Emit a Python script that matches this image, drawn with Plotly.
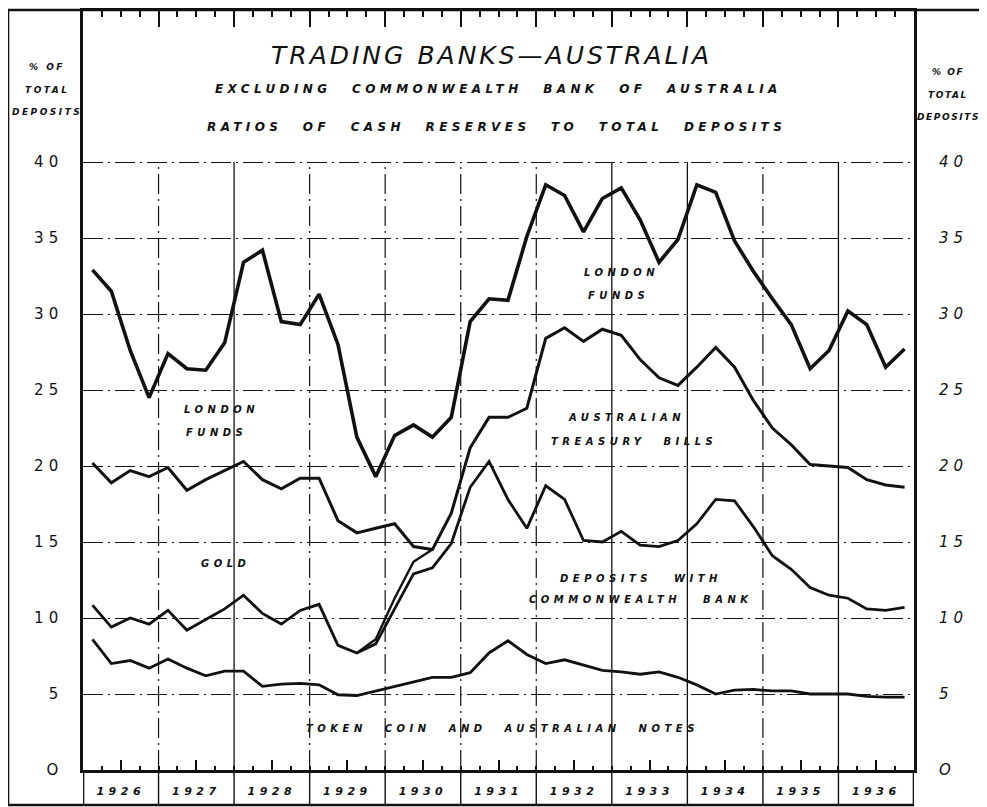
import plotly.graph_objects as go

# ---------------- data (cumulative ratios, % of total deposits) ----------------
years = list(range(1926, 1937))
# quarterly observations, plotted at the middle of each quarter
quarters = [y + (q + 0.5) / 4 for y in years for q in range(4)]

# top line: London funds (total of all cash reserves)
london_funds_top = [32.9, 31.5, 27.6, 24.5, 27.4, 26.4, 26.3, 28.1,
                    33.4, 34.2, 29.5, 29.3, 31.3, 28.0, 21.9, 19.3,
                    22.0, 22.7, 21.9, 23.2, 29.5, 31.0, 30.9, 35.1,
                    38.5, 37.8, 35.4, 37.6, 38.3, 36.2, 33.4, 34.9,
                    38.5, 38.0, 34.8, 32.8, 31.0, 29.3, 26.4, 27.6,
                    30.2, 29.3, 26.5, 27.7]
# gold / Australian treasury bills upper boundary
gold_treasury_top = [20.2, 18.9, 19.7, 19.3, 19.9, 18.4, 19.1, 19.7,
                     20.3, 19.1, 18.5, 19.2, 19.2, 16.4, 15.6, 15.9,
                     16.2, 14.7, 14.5, 16.9, 21.2, 23.2, 23.2, 23.8,
                     28.4, 29.1, 28.2, 29.0, 28.6, 27.0, 25.8, 25.3,
                     26.5, 27.8, 26.5, 24.3, 22.5, 21.4, 20.1, 20.0,
                     19.9, 19.1, 18.75, 18.6]
# treasury bills boundary where it separates from gold (1929-1930)
treasury_split_quarters = quarters[14:19]
treasury_split_top = [7.7, 8.6, 11.3, 13.7, 14.5]
# deposits with Commonwealth Bank upper boundary
deposits_cb_top = [10.85, 9.4, 10.0, 9.6, 10.5, 9.2, 9.9, 10.6,
                   11.5, 10.3, 9.6, 10.5, 10.9, 8.2, 7.7, 8.3,
                   10.6, 12.9, 13.3, 14.9, 18.6, 20.3, 17.8, 15.9,
                   18.7, 17.8, 15.1, 15.0, 15.7, 14.8, 14.7, 15.1,
                   16.2, 17.8, 17.7, 16.0, 14.1, 13.2, 12.0, 11.5,
                   11.3, 10.6, 10.5, 10.7]
# token coin and Australian notes
token_coin_notes = [8.6, 7.0, 7.2, 6.7, 7.3, 6.7, 6.2, 6.5,
                    6.5, 5.5, 5.65, 5.7, 5.6, 4.95, 4.9, 5.2,
                    5.5, 5.8, 6.1, 6.1, 6.4, 7.7, 8.5, 7.6,
                    7.0, 7.25, 6.9, 6.55, 6.45, 6.3, 6.45, 6.1,
                    5.6, 5.0, 5.25, 5.3, 5.2, 5.2, 5.0, 5.0,
                    5.0, 4.85, 4.8, 4.8]

y_ticks = [0, 5, 10, 15, 20, 25, 30, 35, 40]
y_tick_text = ["O", "5", "10", "15", "20", "25", "30", "35", "40"]
year_labels = [str(y) for y in years]

title_text = "TRADING BANKS\u2014AUSTRALIA"
subtitle_1 = "EXCLUDING COMMONWEALTH BANK OF AUSTRALIA"
subtitle_2 = "RATIOS OF CASH RESERVES TO TOTAL DEPOSITS"
axis_title_lines = ["% OF", "TOTAL", "DEPOSITS"]

# in-chart band labels: (text, x (year), y (%), word spacing)
band_labels = [
    ("LONDON", 1927.83, 23.75, 0), ("FUNDS", 1927.77, 22.2, 0),
    ("GOLD", 1927.88, 13.6, 0),
    ("LONDON", 1933.13, 32.7, 0), ("FUNDS", 1933.09, 31.2, 0),
    ("AUSTRALIAN", 1933.20, 23.2, 0), ("TREASURY BILLS", 1933.30, 21.6, 10),
    ("DEPOSITS WITH", 1933.38, 12.6, 14), ("COMMONWEALTH BANK", 1933.38, 11.2, 14),
    ("TOKEN COIN AND AUSTRALIAN NOTES", 1931.55, 2.7, 10),
]

# ---------------- figure ----------------
FONT = "DejaVu Sans"
INK = "#111111"
PAGE_OFFSET = 8  # the browser's default body margin


def spaced(text, ls, ws=None):
    style = f"letter-spacing:{ls}px"
    if ws:
        style += f";word-spacing:{ws}px"
    return f'<span style="{style}">{text}</span>'


fig = go.Figure()
line_kw = dict(mode="lines", hoverinfo="skip", showlegend=False)
fig.add_trace(go.Scatter(x=quarters, y=london_funds_top, line=dict(color=INK, width=3.6), **line_kw))
fig.add_trace(go.Scatter(x=quarters, y=gold_treasury_top, line=dict(color=INK, width=3.0), **line_kw))
fig.add_trace(go.Scatter(x=treasury_split_quarters, y=treasury_split_top, line=dict(color=INK, width=2.4), **line_kw))
fig.add_trace(go.Scatter(x=quarters, y=deposits_cb_top, line=dict(color=INK, width=2.8), **line_kw))
fig.add_trace(go.Scatter(x=quarters, y=token_coin_notes, line=dict(color=INK, width=2.8), **line_kw))
# carrier for the top / right overlay axes
fig.add_trace(go.Scatter(x=[years[0]], y=[0], xaxis="x2", yaxis="y2", mode="markers",
                         marker=dict(opacity=0), hoverinfo="skip", showlegend=False))

x_range = [years[0], years[-1] + 1]
y_range = [0, 50]
grid_dash = "20px,5px,2px,5px"

fig.update_layout(
    width=987 - PAGE_OFFSET, height=807 - PAGE_OFFSET,
    margin=dict(l=83 - PAGE_OFFSET, r=73, t=10 - PAGE_OFFSET, b=37, pad=0),
    paper_bgcolor="white", plot_bgcolor="white",
    xaxis=dict(
        range=x_range, tickvals=[y + 0.5 for y in years],
        ticktext=[spaced(t, 4.5) for t in year_labels],
        ticks="inside", ticklen=10, tickwidth=1.8, tickcolor=INK,
        minor=dict(tick0=years[0], dtick=0.25, ticks="inside", ticklen=4, tickwidth=1.5, tickcolor=INK),
        showline=True, linewidth=2.6, linecolor=INK, showgrid=False, zeroline=False,
        tickfont=dict(family=FONT, size=11, color=INK, style="italic", weight="bold"),
        ticklabelstandoff=9,
    ),
    xaxis2=dict(
        range=x_range, overlaying="x", side="top", anchor="y",
        tickvals=years[1:], ticks="inside", ticklen=17, tickwidth=1.8, tickcolor=INK,
        minor=dict(tick0=years[0], dtick=0.25, ticks="inside", ticklen=7, tickwidth=1.5, tickcolor=INK),
        showticklabels=False, showline=True, linewidth=2.6, linecolor=INK,
        showgrid=False, zeroline=False,
    ),
    yaxis=dict(
        range=y_range, tickvals=y_ticks, ticktext=[spaced(t, 5) for t in y_tick_text],
        ticks="", showline=True, linewidth=2.6, linecolor=INK, mirror=True,
        showgrid=True, gridcolor=INK, gridwidth=1.2, griddash=grid_dash, zeroline=False,
        tickfont=dict(family=FONT, size=15, color=INK),
        ticklabelstandoff=14,
    ),
    yaxis2=dict(
        range=y_range, overlaying="y", side="right", anchor="x",
        tickvals=y_ticks, ticktext=[spaced(t, 5) for t in y_tick_text],
        ticks="", showline=False, showgrid=False, zeroline=False,
        tickfont=dict(family=FONT, size=15, color=INK, style="italic"),
        ticklabelstandoff=24,
    ),
    showlegend=False,
)

# ---------------- frame & grid (decorations) ----------------
px_left_outer = (8 - 83) / 831
px_right_outer = (986 - 83) / 831
band_bottom = (770 - 805) / 760
shapes = []
solid_years = {1928, 1933, 1934, 1936}
for yr in years[1:]:
    shapes.append(dict(type="line", xref="x", yref="y", x0=yr, x1=yr, y0=0, y1=40,
                       line=dict(color=INK, width=1.3 if yr in solid_years else 1.2,
                                 dash="solid" if yr in solid_years else grid_dash)))
for yr in years + [years[-1] + 1]:
    edge = yr in (years[0], years[-1] + 1)
    shapes.append(dict(type="line", xref="x", yref="paper", x0=yr, x1=yr, y0=band_bottom, y1=0,
                       line=dict(color=INK, width=2.6 if edge else 1.4)))
shapes += [
    dict(type="line", xref="paper", yref="paper", x0=px_left_outer, x1=px_left_outer,
         y0=band_bottom, y1=1, line=dict(color=INK, width=2.6)),
    dict(type="line", xref="paper", yref="paper", x0=px_left_outer, x1=px_right_outer,
         y0=1, y1=1, line=dict(color=INK, width=2.6)),
    dict(type="line", xref="paper", yref="paper", x0=px_left_outer, x1=1,
         y0=band_bottom, y1=band_bottom, line=dict(color=INK, width=2.6)),
]
fig.update_layout(shapes=shapes)

# ---------------- text ----------------
ann = []
ann.append(dict(text=spaced(title_text, 3), x=(491 - 83) / 831, y=(770 - 55) / 760,
                font=dict(family=FONT, size=25, color=INK, style="italic")))
ann.append(dict(text=spaced(subtitle_1, 4.4, 12), x=(498 - 83) / 831, y=(770 - 89) / 760,
                font=dict(family=FONT, size=12, color=INK, style="italic", weight="bold")))
ann.append(dict(text=spaced(subtitle_2, 4.4, 12), x=(496 - 83) / 831, y=(770 - 127) / 760,
                font=dict(family=FONT, size=12, color=INK, style="italic", weight="bold")))
for line_text, yl, yr_ in zip(axis_title_lines, [67, 90, 112], [72, 95, 117]):
    ann.append(dict(text=spaced(line_text, 2.5), x=(47 - 83) / 831, y=(770 - yl) / 760,
                    font=dict(family=FONT, size=9, color=INK, style="italic", weight="bold")))
    ann.append(dict(text=spaced(line_text, 1.6), x=(948 - 83) / 831, y=(770 - yr_) / 760,
                    font=dict(family=FONT, size=9, color=INK, style="italic", weight="bold")))
for a in ann:
    a.update(xref="paper", yref="paper", showarrow=False, xanchor="center", yanchor="middle")

for text, xv, yv, ws in band_labels:
    ann.append(dict(text=spaced(text, 4.5, ws), x=xv, y=yv, xref="x", yref="y", showarrow=False,
                    xanchor="center", yanchor="middle",
                    font=dict(family=FONT, size=10, color=INK, style="italic", weight="bold")))
fig.update_layout(annotations=ann)

fig.write_html("out.html")
